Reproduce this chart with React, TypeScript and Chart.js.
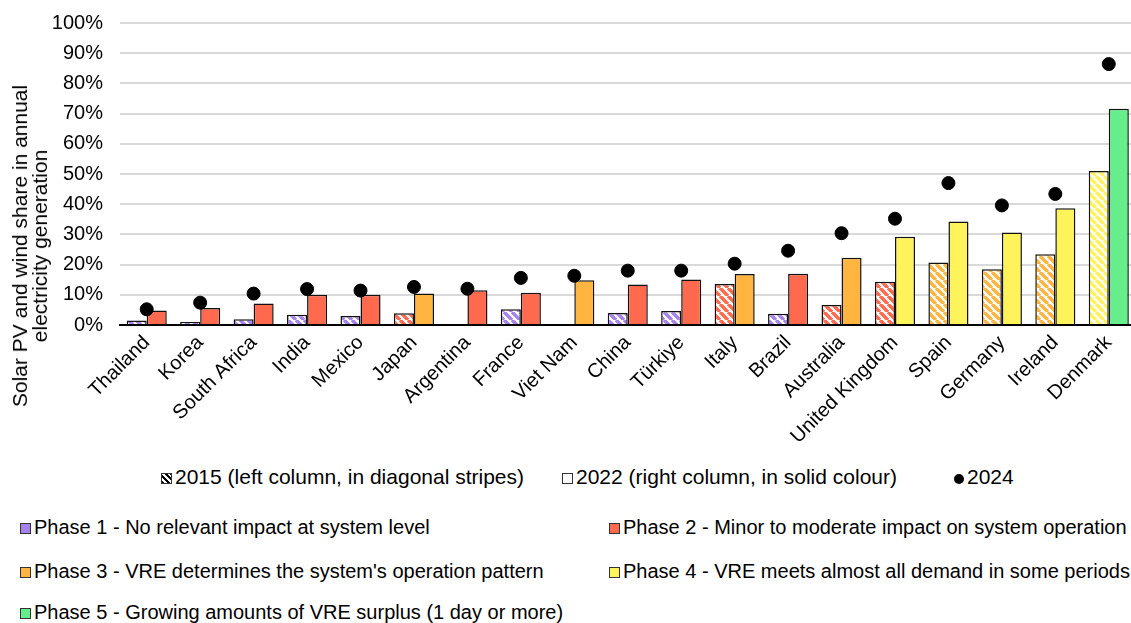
import React, { useEffect, useRef } from "react";
import { Chart, registerables } from "chart.js";
Chart.register(...registerables);

const categories = ["Thailand", "Korea", "South Africa", "India", "Mexico", "Japan", "Argentina", "France", "Viet Nam", "China", "Türkiye", "Italy", "Brazil", "Australia", "United Kingdom", "Spain", "Germany", "Ireland", "Denmark"];
const share2015 = [1.5, 1.0, 1.9, 3.4, 3.0, 3.9, 0.3, 5.2, 0, 4.0, 4.6, 13.6, 3.7, 6.6, 14.3, 20.7, 18.5, 23.4, 51.0];
const share2022 = [4.8, 5.6, 7.1, 10.0, 10.0, 10.4, 11.5, 10.7, 14.8, 13.4, 15.1, 16.9, 17.0, 22.3, 29.2, 34.3, 30.6, 38.7, 71.6];
const share2024 = [5.2, 7.4, 10.4, 11.9, 11.4, 12.6, 12.0, 15.6, 16.3, 18.0, 18.0, 20.3, 24.6, 30.4, 35.2, 47.0, 39.6, 43.4, 86.4];
const phase2015 = [1, 1, 1, 1, 1, 2, 1, 1, 1, 1, 1, 2, 1, 2, 2, 3, 3, 3, 4];
const phase2022 = [2, 2, 2, 2, 2, 3, 2, 2, 3, 2, 2, 3, 2, 3, 4, 4, 4, 4, 5];
const yTicks = [0, 10, 20, 30, 40, 50, 60, 70, 80, 90, 100];
const phaseLabels = [
  "Phase 1 - No relevant impact at system level",
  "Phase 2 - Minor to moderate impact on system operation",
  "Phase 3 - VRE determines the system's operation pattern",
  "Phase 4 - VRE meets almost all demand in some periods",
  "Phase 5 - Growing amounts of VRE surplus (1 day or more)",
];
const phaseColors: Record<number, string> = {
  1: "#A682EE",
  2: "#FF6A4F",
  3: "#FFB540",
  4: "#FFF35C",
  5: "#66EE8C",
};

const FONT = "'Liberation Sans', Arial, sans-serif";

function makeStripe(color: string): CanvasPattern | string {
  const size = 8;
  const c = document.createElement("canvas");
  c.width = size;
  c.height = size;
  const ctx = c.getContext("2d");
  if (!ctx) return color;
  ctx.fillStyle = "#ffffff";
  ctx.fillRect(0, 0, size, size);
  ctx.strokeStyle = color;
  ctx.lineWidth = 3.5;
  ctx.beginPath();
  for (let k = -2; k <= 2; k++) {
    ctx.moveTo(k * size, 0);
    ctx.lineTo(k * size + size, size);
  }
  ctx.stroke();
  const p = ctx.createPattern(c, "repeat");
  return p || color;
}

export default function App() {
  const ref = useRef<HTMLCanvasElement>(null);
  useEffect(() => {
    if (!ref.current) return;
    const H = 460;
    const bottom = 325;
    const chart = new Chart(ref.current, {
      type: "bar",
      data: {
        labels: categories,
        datasets: [
          {
            type: "line" as any,
            label: "2024",
            data: share2024,
            showLine: false,
            pointRadius: 6.5,
            pointHoverRadius: 6.5,
            pointBackgroundColor: "#000",
            pointBorderColor: "#000",
            borderColor: "#000",
            backgroundColor: "#000",
            order: 0,
          } as any,
          {
            label: "2015",
            data: share2015,
            backgroundColor: phase2015.map((p) => makeStripe(phaseColors[p])) as any,
            borderColor: "#111",
            borderWidth: 1.5,
            borderSkipped: "bottom",
            order: 1,
          },
          {
            label: "2022",
            data: share2022,
            backgroundColor: phase2022.map((p) => phaseColors[p]),
            borderColor: "#111",
            borderWidth: 1.5,
            borderSkipped: "bottom",
            order: 1,
          },
        ],
      },
      options: {
        responsive: false,
        animation: false,
        layout: { padding: { top: 23, left: 0, right: 0, bottom: 0 } },
        plugins: { legend: { display: false }, tooltip: { enabled: false } },
        datasets: { bar: { categoryPercentage: 0.75, barPercentage: 1 } },
        scales: {
          x: {
            offset: true,
            grid: { display: false, drawTicks: false },
            border: { display: true, color: "#000", width: 2 },
            ticks: {
              autoSkip: false,
              maxRotation: 45,
              minRotation: 45,
              padding: 6,
              color: "#000",
              font: { size: 20, family: FONT },
            },
            afterFit: (s: any) => {
              s.height = H - bottom;
            },
          },
          y: {
            min: 0,
            max: 100,
            afterBuildTicks: (s: any) => {
              s.ticks = yTicks.map((v) => ({ value: v }));
            },
            ticks: {
              padding: 17,
              color: "#000",
              font: { size: 20, family: FONT },
              callback: (v: any) => v + "%",
            },
            grid: { color: "#d9d9d9", lineWidth: 2, drawTicks: false },
            border: { display: false },
            afterFit: (s: any) => {
              s.width = 120;
              s.paddingTop = 0;
              s.paddingBottom = 0;
            },
          },
        },
      },
    });
    return () => chart.destroy();
  }, []);

  const txt = (size: number): React.CSSProperties => ({
    position: "absolute",
    fontFamily: FONT,
    fontSize: size,
    color: "#000",
    whiteSpace: "nowrap",
    lineHeight: "20px",
  });
  const box = (bg: string, extra?: React.CSSProperties): React.CSSProperties => ({
    display: "inline-block",
    width: 9,
    height: 9,
    border: "1.5px solid #333",
    background: bg,
    marginRight: 3,
    verticalAlign: "0px",
    ...extra,
  });
  const stripeBg = "repeating-linear-gradient(45deg, #000 0 2px, #fff 2px 4px)";

  const phaseRows = [
    { p: 1, x: 20, y: 517 },
    { p: 2, x: 609, y: 517 },
    { p: 3, x: 20, y: 561 },
    { p: 4, x: 609, y: 561 },
    { p: 5, x: 20, y: 602 },
  ];

  return (
    <div style={{ position: "absolute", left: 0, top: 0, width: 1131, height: 623, overflow: "hidden", background: "#fff" }}>
      <canvas ref={ref} width={1143} height={460} style={{ position: "absolute", left: 0, top: 0 }} />
      <div
        style={{
          ...txt(21),
          left: 30,
          top: 246,
          textAlign: "center",
          transform: "translate(-50%, -50%) rotate(-90deg)",
        }}
      >
        Solar PV and wind share in annual
        <br />
        electricity generation
      </div>
      <div style={{ ...txt(21), left: 161, top: 467 }}>
        <span style={box(stripeBg)} />
        2015 (left column, in diagonal stripes)
      </div>
      <div style={{ ...txt(21), left: 562, top: 467 }}>
        <span style={box("#fff")} />
        2022 (right column, in solid colour)
      </div>
      <div style={{ ...txt(21), left: 954, top: 467 }}>
        <span style={box("#000", { borderRadius: "50%", width: 10, height: 10, border: "none" })} />
        2024
      </div>
      {phaseRows.map((r) => (
        <div key={r.p} style={{ ...txt(20), left: r.x, top: r.y }}>
          <span style={box(phaseColors[r.p])} />
          {phaseLabels[r.p - 1]}
        </div>
      ))}
    </div>
  );
}
